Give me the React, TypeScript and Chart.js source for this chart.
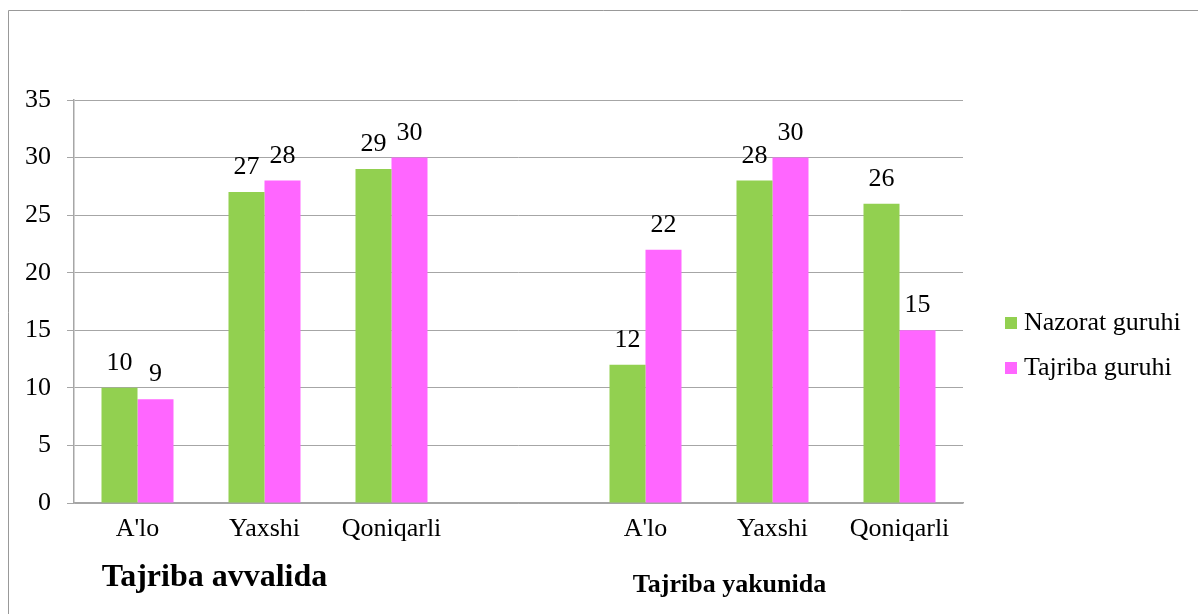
import React, { useEffect, useRef } from "react";
import { Chart, registerables } from "chart.js";

Chart.register(...registerables);

const categories = ["A'lo", "Yaxshi", "Qoniqarli", "", "A'lo", "Yaxshi", "Qoniqarli"];
const nazoratValues = [10, 27, 29, null, 12, 28, 26];
const tajribaValues = [9, 28, 30, null, 22, 30, 15];
const seriesNames = ["Nazorat guruhi", "Tajriba guruhi"];
const seriesColors = ["#92D050", "#FF66FF"];
const groupTitles = ["Tajriba avvalida", "Tajriba yakunida"];

const SERIF = "Liberation Serif";

const decorPlugin = {
  id: "decor",
  beforeDraw(chart: any) {
    const ctx = chart.ctx;
    ctx.save();
    ctx.strokeStyle = "#999999";
    ctx.lineWidth = 1;
    ctx.beginPath();
    ctx.moveTo(8.5, 614);
    ctx.lineTo(8.5, 10.5);
    ctx.lineTo(1198, 10.5);
    ctx.stroke();
    ctx.restore();
  },
  afterDatasetsDraw(chart: any) {
    const ctx = chart.ctx;
    ctx.save();
    ctx.fillStyle = "#000";
    ctx.font = `26px "${SERIF}"`;
    ctx.textAlign = "center";
    ctx.textBaseline = "alphabetic";
    chart.data.datasets.forEach((ds: any, di: number) => {
      const meta = chart.getDatasetMeta(di);
      meta.data.forEach((bar: any, i: number) => {
        const v = ds.data[i];
        if (v === null || v === undefined) return;
        ctx.fillText(String(v), bar.x, bar.y - 18);
      });
    });
    // group titles
    const xs = chart.scales.x;
    ctx.font = `bold 32px "${SERIF}"`;
    ctx.fillText(groupTitles[0], xs.getPixelForValue(1) - 50, 586);
    ctx.font = `bold 26px "${SERIF}"`;
    ctx.fillText(groupTitles[1], xs.getPixelForValue(5) - 43, 592);
    // legend
    ctx.font = `26px "${SERIF}"`;
    ctx.textAlign = "left";
    ctx.textBaseline = "alphabetic";
    chart.data.datasets.forEach((ds: any, di: number) => {
      const y = 317 + di * 45;
      ctx.fillStyle = ds.backgroundColor;
      ctx.fillRect(1005, y, 12, 12);
      ctx.fillStyle = "#000";
      ctx.fillText(ds.label, 1024, y + 13);
    });
    ctx.restore();
  },
};

export default function App() {
  const ref = useRef<HTMLCanvasElement | null>(null);
  useEffect(() => {
    if (!ref.current) return;
    const chart = new Chart(ref.current, {
      type: "bar",
      data: {
        labels: categories,
        datasets: [
          { label: seriesNames[0], data: nazoratValues, backgroundColor: seriesColors[0] },
          { label: seriesNames[1], data: tajribaValues, backgroundColor: seriesColors[1] },
        ],
      },
      options: {
        animation: false,
        responsive: false,
        maintainAspectRatio: false,
        datasets: { bar: { categoryPercentage: 0.567, barPercentage: 1 } },
        layout: { padding: { left: 0, top: 100, right: 235, bottom: 0 } },
        plugins: { legend: { display: false }, tooltip: { enabled: false } },
        scales: {
          x: {
            grid: { display: false, drawTicks: false },
            border: { display: true, color: "#A6A6A6", width: 1.5 },
            ticks: { color: "#000", font: { family: SERIF, size: 26 }, padding: 11, maxRotation: 0, autoSkip: false },
            afterFit(scale: any) { scale.height = 111; },
          },
          y: {
            min: 0,
            max: 35,
            ticks: { stepSize: 5, color: "#000", font: { family: SERIF, size: 26 }, padding: 16 },
            grid: { color: "#A6A6A6", lineWidth: 1, tickLength: 7, drawTicks: true },
            border: { display: true, color: "#A6A6A6", width: 1.5 },
            afterFit(scale: any) { scale.width = 74; },
          },
        },
      },
      plugins: [decorPlugin],
    });
    return () => chart.destroy();
  }, []);
  return (
    <div style={{ position: "fixed", left: 0, top: 0, width: 1198, height: 614, background: "#fff" }}>
      <canvas ref={ref} width={1198} height={614} style={{ display: "block" }} />
    </div>
  );
}
